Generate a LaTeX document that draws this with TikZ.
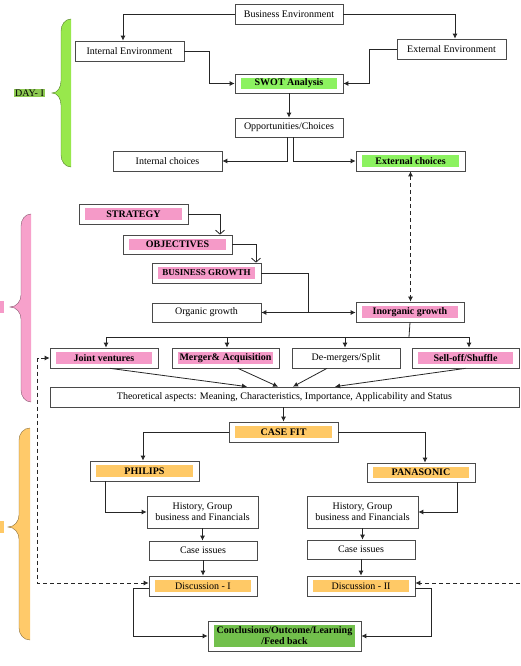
\documentclass[tikz,border=0pt]{standalone}
\usepackage{fontspec}
\setmainfont{Liberation Serif}
\usetikzlibrary{arrows.meta,positioning}
\definecolor{hlgreen}{HTML}{8CF260}
\definecolor{hlpink}{HTML}{F59AC8}
\definecolor{hlorange}{HTML}{FFC966}
\definecolor{concgreen}{HTML}{72C04C}
\definecolor{daygreen}{HTML}{8DC951}
\definecolor{bracegreen}{HTML}{98E84C}
\definecolor{bracepink}{HTML}{F7A1CB}
\definecolor{braceorange}{HTML}{FFCA6A}
\definecolor{edge}{HTML}{4A4A4A}

% day brace: colour, right x, inner x, tip x, top y, mid y, bottom y
\newcommand{\dayBrace}[7]{%
  \filldraw[fill=#1, draw=#1!55!black, line width=0.4pt]
    (#2,#5) to[out=180,in=90] (#3,#5+12) -- (#3,#6-12) to[out=-90,in=0] (#4,#6)
    to[out=0,in=90] (#3,#6+12) -- (#3,#7-12) to[out=-90,in=180] (#2,#7);
}

\begin{document}
\begin{tikzpicture}[
  x=1pt, y=-1pt,
  box/.style={draw=edge, line width=0.7pt, fill=white, inner sep=1pt,
    minimum width=108pt, minimum height=20pt, align=center,
    font=\fontsize{10}{11}\selectfont},
  hl/.style={box, path picture={\fill[#1]
    ([shift={(6pt,4pt)}]path picture bounding box.south west) rectangle
    ([shift={(-6pt,-4pt)}]path picture bounding box.north east);}},
  bold/.style={font=\fontsize{10}{11}\selectfont\bfseries},
  link/.style={draw=black!85, line width=0.8pt},
  arr/.style={link, -{Latex[length=5pt,width=5pt]}},
  twoway/.style={link, {Latex[length=5pt,width=5pt]}-{Latex[length=5pt,width=5pt]}},
  barb/.style={link, -{Straight Barb[length=4pt,width=9pt]}},
  dashlink/.style={link, dash pattern=on 4pt off 3pt}
]
  \useasboundingbox (0,0) rectangle (520,666);

  % Day braces on the left
  \dayBrace{bracegreen}{71}{61}{52}{19}{93}{167}
  \dayBrace{bracepink}{31}{21}{10}{214}{307}{402}
  \dayBrace{braceorange}{30}{19}{8}{428}{527}{640}
  \node[fill=daygreen, inner sep=1pt, font=\fontsize{10}{11}\selectfont] (day1) at (29.5,93) {DAY- I};
  \fill[hlpink] (0,301) rectangle (4,313);
  \fill[hlorange] (0,521) rectangle (4,533);

  % Environment and SWOT
  \node[box] (busenv) at (289,14) {Business Environment};
  \node[box, minimum width=109pt] (intenv) at (129.5,51) {Internal Environment};
  \node[box, minimum width=109pt] (extenv) at (451.5,49) {External Environment};
  \node[hl=hlgreen, bold, minimum height=19pt] (swot) at (289,83.5) {SWOT Analysis};
  \node[box, minimum height=19pt] (opps) at (289,127.5) {Opportunities/Choices};
  \node[box, minimum width=109pt] (intch) at (167.5,161) {Internal choices};
  \node[hl=hlgreen, bold, minimum width=109pt] (extch) at (410.5,161) {External choices};

  \draw[arr] (busenv.west) -| ([xshift=-6.5pt]intenv.north);
  \draw[arr] (busenv.east) -| ([xshift=3.5pt]extenv.north);
  \draw[arr] (intenv.east) -- ++(25,0) |- (swot.west);
  \draw[arr] (extenv.west) -- ++(-27,0) |- (swot.east);
  \draw[arr] (swot.south) -- (opps.north);
  \draw[arr] ([xshift=-2pt]opps.south) |- (intch.east);
  \draw[arr] ([xshift=4pt]opps.south) |- (extch.west);

  % Strategy chain
  \node[hl=hlpink, bold, minimum width=109pt] (strategy) at (133.5,214) {STRATEGY};
  \node[hl=hlpink, bold, minimum width=109pt, minimum height=19pt] (objectives) at (177.5,244.5) {OBJECTIVES};
  \node[hl=hlpink, minimum width=109pt, font=\fontsize{9}{10}\selectfont\bfseries] (busgrowth) at (206.5,273) {BUSINESS GROWTH};
  \node[box, minimum width=109pt, minimum height=19pt] (organic) at (206.5,312.5) {Organic growth};
  \node[hl=hlpink, bold] (inorganic) at (410,312) {Inorganic growth};

  \draw[barb] (strategy.east) -| ([xshift=42.5pt]objectives.north);
  \draw[barb] (objectives.east) -| ([xshift=49.5pt]busgrowth.north);
  \coordinate (split) at (308,312);
  \draw[link] (busgrowth.east) -| (split);
  \draw[twoway] (organic.east) -- (organic.east -| inorganic.west);
  \draw[twoway, dash pattern=on 4pt off 3pt] (extch.south) -- (extch.south |- inorganic.north);

  % Inorganic routes
  \node[hl=hlpink, bold] (jv) at (104,358) {Joint ventures};
  \node[hl=hlpink, bold, minimum width=107pt] (merger) at (225.5,358) {Merger\& Acquisition};
  \node[box] (demerger) at (346,358) {De-mergers/Split};
  \node[hl=hlpink, bold, minimum width=107pt] (selloff) at (465.5,358) {Sell-off/Shuffle};
  \node[box, minimum width=469pt] (theory) at (284.5,397)
    {Theoretical aspects: Meaning, Characteristics, Importance, Applicability and Status};

  \coordinate (fan) at (409,337);
  \draw[link] (inorganic.south) -- (fan);
  \draw[link] ([xshift=2pt]jv.north |- fan) -- ([xshift=3.5pt]selloff.north |- fan);
  \draw[arr] ([xshift=2pt]jv.north |- fan) -- ([xshift=2pt]jv.north);
  \draw[arr] ([xshift=1.5pt]merger.north |- fan) -- ([xshift=1.5pt]merger.north);
  \draw[arr] ([xshift=-1pt]demerger.north |- fan) -- ([xshift=-1pt]demerger.north);
  \draw[arr] ([xshift=3.5pt]selloff.north |- fan) -- ([xshift=3.5pt]selloff.north);

  \draw[arr] ([xshift=6pt]jv.south) -- ([xshift=-37.5pt]theory.north);
  \draw[arr] ([xshift=12.5pt]merger.south) -- ([xshift=-6.5pt]theory.north);
  \draw[arr] ([xshift=-19pt]demerger.south) -- ([xshift=8.5pt]theory.north);
  \draw[arr] (selloff.south) -- ([xshift=50.5pt]theory.north);

  % Case fit
  \node[hl=hlorange, bold, minimum width=109pt] (casefit) at (283.5,432) {CASE FIT};
  \node[hl=hlorange, bold, minimum width=109pt] (philips) at (144.5,471) {PHILIPS};
  \node[hl=hlorange, bold, minimum height=19pt] (panasonic) at (421,472.5) {PANASONIC};
  \node[box, minimum width=111pt, minimum height=32pt] (histA) at (202.5,512)
    {History, Group\\business and Financials};
  \node[box, minimum width=111pt, minimum height=32pt] (histB) at (362.5,512)
    {History, Group\\business and Financials};
  \node[box, minimum height=19pt] (issuesA) at (203,550.5) {Case issues};
  \node[box, minimum height=19pt] (issuesB) at (361,549.5) {Case issues};
  \node[hl=hlorange] (discA) at (203,586) {Discussion - I};
  \node[hl=hlorange] (discB) at (361,586) {Discussion - II};
  \node[hl=concgreen, bold, minimum width=153pt, minimum height=30pt, inner sep=3pt] (concl) at (284.5,636)
    {Conclusions/Outcome/Learning\\/Feed back};

  \draw[arr] (theory.south -| casefit.north) -- (casefit.north);
  \draw[arr] (casefit.west) -| ([xshift=-1.5pt]philips.north);
  \draw[arr] (casefit.east) -| ([xshift=4pt]panasonic.north);
  \draw[arr] ([xshift=-39.5pt]philips.south) |- (histA.west);
  \draw[arr] ([xshift=36pt]panasonic.south) |- (histB.east);
  \draw[arr] (histA.south) -- (histA.south |- issuesA.north);
  \draw[arr] (histB.south) -- (histB.south |- issuesB.north);
  \draw[arr] (issuesA.south) -- (discA.north);
  \draw[arr] (issuesB.south) -- (discB.north);
  \draw[arr] ([yshift=-2pt]discA.west) -- ++(-15,0) |- (concl.west);
  \draw[arr] ([yshift=-2pt]discB.east) -- ++(16,0) |- (concl.east);

  % Feedback loops (dashed)
  \draw[twoway, dash pattern=on 4pt off 3pt] (jv.west) -- ++(-12,0) |- ([yshift=3pt]discA.west);
  \coordinate (rightend) at (520,583);
  \draw[dashlink, arr] (rightend) -- ([yshift=3pt]discB.east);
\end{tikzpicture}
\end{document}
